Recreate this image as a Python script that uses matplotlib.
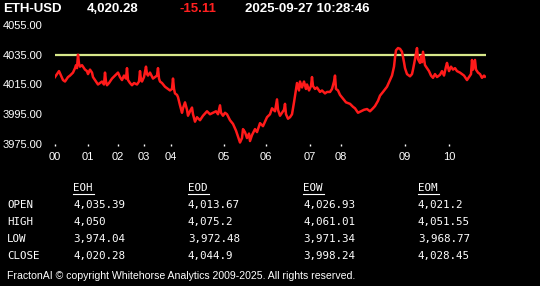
import matplotlib.pyplot as plt
from matplotlib.lines import Line2D

# price trace (bar index, close)
bars = [0, 2, 4, 6, 8, 10, 13, 15, 18, 20, 21, 22, 23, 24, 25, 27, 30, 32, 33, 35,
        37, 38, 40, 43, 45, 47, 49, 50, 51, 52, 54, 57, 60, 63, 65, 67, 69, 71, 72, 73,
        75, 77, 79, 82, 84, 85, 86, 87, 89, 91, 92, 93, 95, 98, 100, 102, 103, 104, 105, 107,
        110, 113, 115, 117, 118, 119, 120, 122, 123, 125, 127, 128, 130, 132, 133, 135, 137, 138, 140, 142,
        145, 148, 152, 155, 158, 161, 163, 165, 166, 168, 170, 172, 175, 178, 181, 183, 185, 187, 188, 190,
        192, 194, 195, 197, 200, 202, 205, 208, 212, 215, 217, 220, 222, 223, 225, 227, 229, 230, 231, 233,
        235, 237, 239, 242, 244, 245, 247, 249, 251, 252, 254, 256, 257, 258, 260, 262, 265, 267, 270, 272,
        275, 277, 279, 280, 281, 283, 285, 288, 291, 295, 298, 300, 303, 306, 309, 312, 315, 318, 320, 323,
        325, 328, 332, 335, 337, 339, 340, 341, 343, 345, 347, 349, 350, 352, 355, 357, 358, 360, 361, 362,
        363, 365, 366, 367, 368, 370, 372, 374, 376, 378, 380, 382, 385, 387, 389, 391, 392, 394, 396, 398,
        400, 402, 405, 407, 409, 412, 414, 416, 417, 418, 420, 421, 423, 425, 427, 429, 430]
closes = [4020, 4022, 4024, 4021, 4018, 4017, 4020, 4021, 4023, 4026, 4028, 4026, 4035, 4029, 4027, 4028, 4025, 4024, 4022, 4025,
          4023, 4020, 4018, 4015, 4016, 4017, 4015, 4023, 4017, 4014.5, 4016, 4019, 4021, 4023, 4020, 4018, 4021, 4019, 4026, 4018,
          4016, 4014.5, 4016, 4015, 4017, 4024, 4018, 4017, 4020, 4027, 4022, 4021, 4023, 4019, 4020, 4021, 4026, 4019, 4017, 4016,
          4013.5, 4012, 4011, 4012, 4019, 4012, 4009, 4008, 4006.5, 4001, 3996, 3999, 4003, 3998, 3994, 3997, 3999.5, 3995, 3990, 3993,
          3991, 3994, 3997, 3995, 3996, 3997, 3995, 4001, 3996, 3994, 3996, 3995, 3991, 3988.5, 3984, 3980, 3976, 3979, 3985, 3983,
          3979, 3982, 3977, 3981, 3985, 3983, 3989, 3987, 3993, 3995, 3999, 3997, 4005, 3998, 3994, 3996, 3998, 4002, 3995, 3992,
          3993, 3995, 4003, 4016, 4011, 4017, 4013, 4017, 4012, 4015, 4011, 4014, 4020, 4014, 4012, 4013, 4010, 4011, 4009, 4010,
          4010, 4012, 4017, 4021, 4012, 4011, 4008, 4005.5, 4003, 4002, 4000, 3999, 3996, 3997, 3998, 3998.5, 3997, 3999, 4000.5, 4004,
          4007.5, 4010, 4013.5, 4018, 4021, 4027, 4033, 4038, 4039.5, 4039, 4037, 4030, 4026, 4022, 4020.5, 4022, 4025, 4032, 4036, 4039.5,
          4032, 4029.5, 4034, 4030, 4037, 4028, 4026, 4024, 4021, 4019.5, 4022, 4020, 4021.5, 4024, 4021, 4027, 4029.5, 4024, 4027, 4025,
          4026, 4024, 4023, 4022, 4021, 4018, 4020, 4022, 4031.5, 4025, 4031.5, 4025, 4023, 4022, 4019.5, 4021, 4020.3]

ref_level = 4035
hour_pos = [0, 33, 63, 89, 116, 169, 211, 255, 286, 350, 394]
hour_labels = ["00", "01", "02", "03", "04", "05", "06", "07", "08", "09", "10"]
y_ticks = [3975, 3995, 4015, 4035, 4055]

cols = ["EOH", "EOD", "EOW", "EOM"]
rows = ["OPEN", "HIGH", "LOW", "CLOSE"]
table = [["4,035.39", "4,013.67", "4,026.93", "4,021.2"],
         ["4,050", "4,075.2", "4,061.01", "4,051.55"],
         ["3,974.04", "3,972.48", "3,971.34", "3,968.77"],
         ["4,020.28", "4,044.9", "3,998.24", "4,028.45"]]

W, H = 540, 286
fig = plt.figure(figsize=(5.4, 2.86), dpi=100, facecolor="black")
ax = fig.add_axes([55 / W, 1 - 144 / H, 431 / W, 119 / H], facecolor="black")
ax.axhline(ref_level, color="#d8e88a", lw=1.6)
ax.plot(bars, closes, color="#ff1a1a", lw=1.8)
ax.set_xlim(0, 431)
ax.set_ylim(3975, 4055)
ax.set_yticks(y_ticks)
ax.set_yticklabels([f"{v:.2f}" for v in y_ticks])
ax.set_xticks(hour_pos)
ax.set_xticklabels(hour_labels)
for s in ax.spines.values():
    s.set_visible(False)
ax.tick_params(axis="y", length=0, pad=9, colors="white", labelsize=8)
ax.tick_params(axis="x", length=1.5, width=1, pad=4, colors="white", labelsize=8)
for t in ax.get_xticklabels() + ax.get_yticklabels():
    t.set_family("Liberation Sans")

def px(x, y):
    return x / W, 1 - y / H

hdr = dict(family="Liberation Sans", fontweight="bold", fontsize=9.5, va="center")
fig.text(*px(3, 9), "ETH-USD", color="white", **hdr)
fig.text(*px(87, 9), "4,020.28", color="white", **hdr)
fig.text(*px(180, 9), "-15.11", color="#ff2020", **hdr)
fig.text(*px(245, 9), "2025-09-27 10:28:46", color="white", **hdr)

mono = dict(family="DejaVu Sans Mono", fontsize=7.8, color="white", va="center")
col_x = [73, 188, 303, 418]
for cx, c in zip(col_x, cols):
    fig.text(*px(cx, 188), c, **mono)
    fig.lines.append(Line2D([cx / W, (cx + 21) / W], [1 - 194 / H] * 2,
                            color="white", lw=0.8, transform=fig.transFigure))
row_y = [205, 222, 239, 256]
for ry, r, vals in zip(row_y, rows, table):
    fig.text(*px(7, ry), r, **mono)
    for cx, v in zip(col_x, vals):
        fig.text(*px(cx, ry), v, **mono)

fig.text(*px(7, 276), "FractonAI \u00a9 copyright Whitehorse Analytics 2009-2025. All rights reserved.",
         family="Liberation Sans", fontsize=7.6, color="white", va="center")

fig.savefig("out.png", dpi=100, facecolor="black")
